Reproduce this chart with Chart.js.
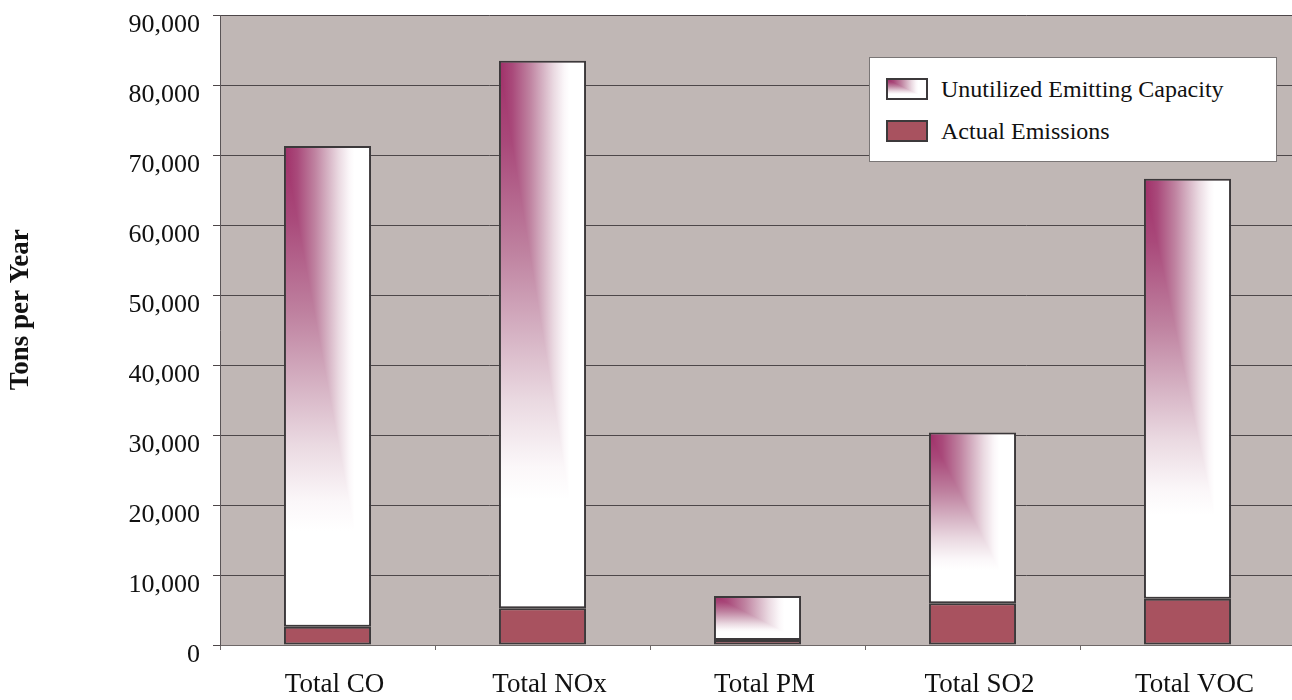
<!DOCTYPE html>
<html>
<head>
<meta charset="utf-8">
<script src="https://cdn.jsdelivr.net/npm/chart.js@4/dist/chart.umd.min.js"></script>
<style>
  html, body { margin: 0; padding: 0; background: #fff; overflow: hidden; }
  #wrap { position: relative; width: 1295px; height: 700px; }
  #legend {
    position: absolute; left: 869px; top: 57px; width: 406px; height: 103px;
    background: #fff; border: 1px solid #7a7676;
    font-family: 'Liberation Serif', 'Times New Roman', serif; font-size: 24px; color: #111;
  }
  .item { position: absolute; left: 16px; height: 22px; }
  .swatch { position: absolute; left: 0; top: 0; width: 38px; height: 18px; border: 2px solid #3c393b; background-size: 100% 100%; }
  .label { position: absolute; left: 55px; top: -3px; white-space: nowrap; line-height: 28px; }
</style>
</head>
<body>
<div id="wrap">
  <canvas id="chart" width="1295" height="700"></canvas>
  <div id="legend"></div>
</div>
<script>
// Emission categories and tonnages (tons per year)
const categories = ['Total CO', 'Total NOx', 'Total PM', 'Total SO2', 'Total VOC'];
const actualEmissions = [2600, 5250, 700, 5950, 6600];
const unutilizedCapacity = [68700, 78200, 6300, 24400, 60000];
const seriesNames = ['Actual Emissions', 'Unutilized Emitting Capacity'];
const yTicks = [0, 10000, 20000, 30000, 40000, 50000, 60000, 70000, 80000, 90000];

const SERIF = "'Liberation Serif', 'Times New Roman', serif";
const BAR_PCT = 0.405;
const EDGE = '#3c393b';
const SHADE_STOPS = [
  [0.00, '#a02f68'],
  [0.15, '#a9497a'],
  [0.35, '#bf82a0'],
  [0.50, '#d6b3c4'],
  [0.62, '#ead9e1'],
  [0.74, '#fbf7f9'],
  [0.80, '#ffffff'],
  [1.00, '#ffffff']
];

// "From corner" shading: colour depends on max(u, v) measured from the top-left corner.
// Below the diagonal the bands run horizontally, above it vertically.
function paintCornerShade(g, w, h) {
  const across = g.createLinearGradient(0, 0, w, 0);
  const down = g.createLinearGradient(0, 0, 0, h);
  SHADE_STOPS.forEach(([o, c]) => { across.addColorStop(o, c); down.addColorStop(o, c); });
  g.fillStyle = down;
  g.fillRect(0, 0, w, h);
  g.beginPath(); g.moveTo(0, 0); g.lineTo(w, 0); g.lineTo(w, h); g.closePath();
  g.fillStyle = across;
  g.fill();
}

function shadeCanvas(w, h) {
  const c = document.createElement('canvas');
  c.width = Math.max(1, Math.ceil(w));
  c.height = Math.max(1, Math.ceil(h));
  paintCornerShade(c.getContext('2d'), c.width, c.height);
  return c;
}

function capacityFill(ctx) {
  const chart = ctx.chart;
  if (!chart.chartArea || ctx.type !== 'data') return SHADE_STOPS[3][1];
  const i = ctx.dataIndex;
  const xs = chart.scales.x, ys = chart.scales.y;
  const w = (xs.width / categories.length) * BAR_PCT;
  const x0 = xs.getPixelForValue(i) - w / 2;
  const top = ys.getPixelForValue(actualEmissions[i] + unutilizedCapacity[i]);
  const bot = ys.getPixelForValue(actualEmissions[i]);
  const pattern = chart.ctx.createPattern(shadeCanvas(w, bot - top), 'no-repeat');
  pattern.setTransform(new DOMMatrix().translate(x0, top));
  return pattern;
}

// Plot-area backdrop
const plotBackdrop = {
  id: 'plotBackdrop',
  beforeDraw(chart) {
    const { ctx, chartArea: a } = chart;
    ctx.save();
    ctx.fillStyle = '#c0b7b5';
    ctx.fillRect(a.left, a.top, a.right - a.left, a.bottom - a.top);
    ctx.restore();
  }
};

const chart = new Chart(document.getElementById('chart'), {
  type: 'bar',
  data: {
    labels: categories,
    datasets: [
      {
        label: seriesNames[0],
        data: actualEmissions,
        backgroundColor: '#a8525f',
        borderColor: EDGE,
        borderWidth: 2,
        borderSkipped: false
      },
      {
        label: seriesNames[1],
        data: unutilizedCapacity,
        backgroundColor: capacityFill,
        borderColor: EDGE,
        borderWidth: 2,
        borderSkipped: false
      }
    ]
  },
  options: {
    responsive: false,
    animation: false,
    devicePixelRatio: 1,
    layout: { padding: { top: 15, right: 0, bottom: 0, left: 0 } },
    datasets: { bar: { categoryPercentage: 1, barPercentage: BAR_PCT } },
    plugins: { legend: { display: false }, tooltip: { enabled: false } },
    scales: {
      x: {
        stacked: true,
        grid: { offset: true, drawOnChartArea: false, drawTicks: true, tickLength: 5, color: '#6e6868' },
        border: { color: '#6e6868', width: 1 },
        ticks: { color: '#111', padding: 19, labelOffset: 7, font: { family: SERIF, size: 27 } },
        afterFit(scale) { scale.height = 55; scale.paddingLeft = 0; scale.paddingRight = 0; }
      },
      y: {
        stacked: true,
        min: 0,
        max: 90000,
        afterBuildTicks(scale) { scale.ticks = yTicks.map(v => ({ value: v })); },
        grid: { color: '#4d4749', lineWidth: 1, tickLength: 7 },
        border: { color: '#5a5456', width: 1 },
        ticks: {
          color: '#111',
          padding: 13,
          labelOffset: 10,
          font: { family: SERIF, size: 26 },
          callback: v => Number(v).toLocaleString('en-US')
        },
        title: {
          display: true,
          text: '      Tons per Year',
          color: '#111',
          padding: { top: 5, bottom: 0 },
          font: { family: SERIF, size: 27, weight: 'bold' }
        },
        afterFit(scale) { scale.width = 220; scale.paddingTop = 0; scale.paddingBottom = 0; }
      }
    }
  },
  plugins: [plotBackdrop]
});

// Legend box built from the chart's datasets (top row = upper stack segment)
const legendEl = document.getElementById('legend');
const swatchShade = shadeCanvas(38, 18).toDataURL();
chart.data.datasets.slice().reverse().forEach((ds, row) => {
  const item = document.createElement('div');
  item.className = 'item';
  item.style.top = (20 + row * 42) + 'px';
  const sw = document.createElement('div');
  sw.className = 'swatch';
  if (typeof ds.backgroundColor === 'string') sw.style.background = ds.backgroundColor;
  else sw.style.backgroundImage = 'url(' + swatchShade + ')';
  const lb = document.createElement('div');
  lb.className = 'label';
  lb.textContent = ds.label;
  item.appendChild(sw);
  item.appendChild(lb);
  legendEl.appendChild(item);
});
</script>
</body>
</html>
